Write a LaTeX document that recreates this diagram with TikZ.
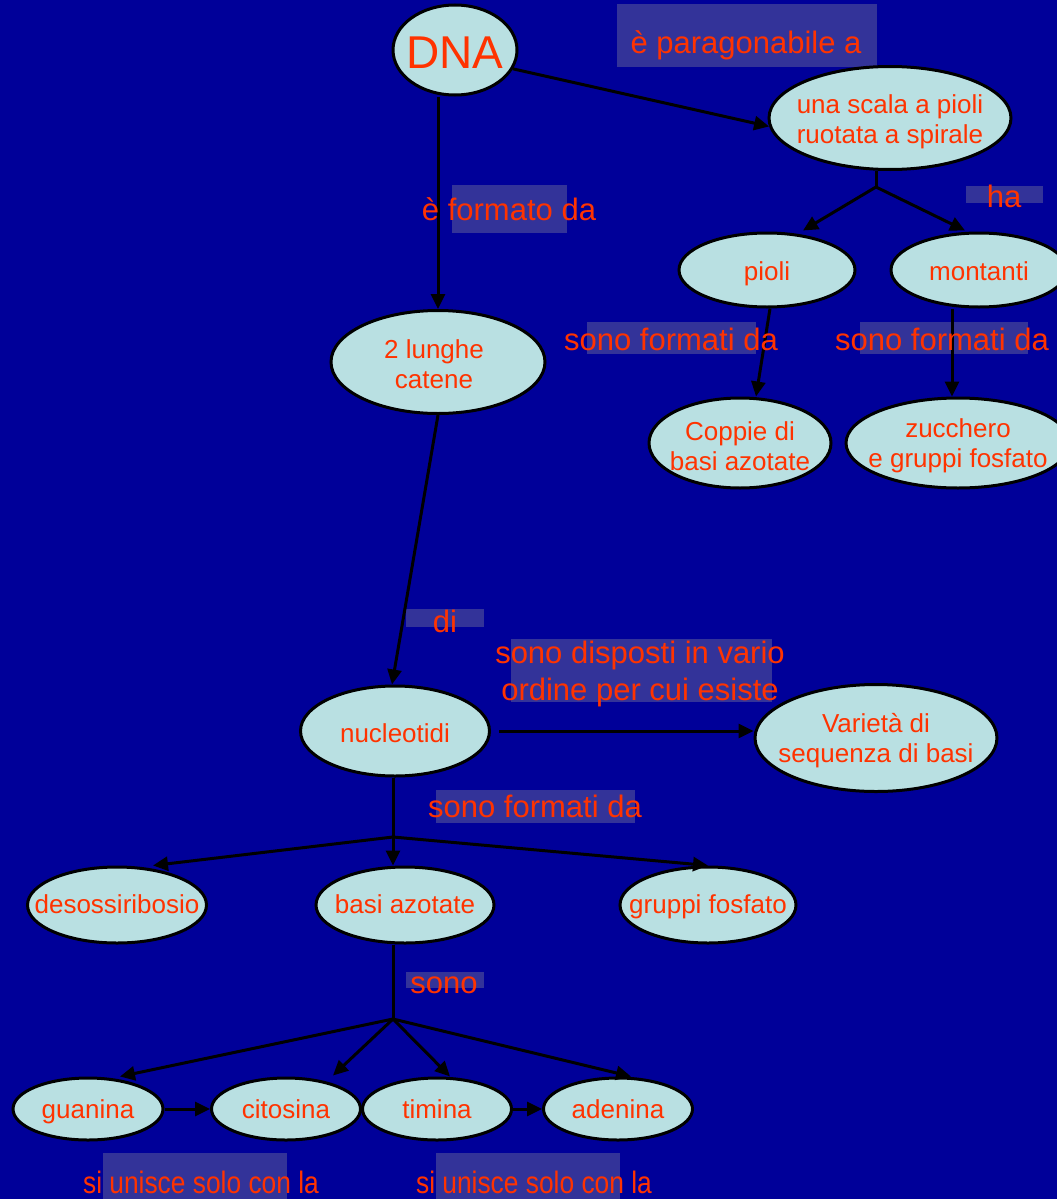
\documentclass[tikz,border=0pt]{standalone}
\usepackage{fontspec}
\setmainfont{Liberation Sans}
\usetikzlibrary{shapes.geometric,arrows.meta}
\definecolor{bg}{HTML}{000099}
\definecolor{ellfill}{HTML}{B9E0E2}
\definecolor{txtred}{HTML}{FF3300}
\definecolor{lblbox}{HTML}{333399}
\begin{document}
\begin{tikzpicture}[x=1pt,y=-1pt,
  ell/.style={ellipse, draw=black, line width=3pt, fill=ellfill, inner sep=0pt},
  etxt/.style={text=txtred, font=\fontsize{26}{30}\selectfont, align=center, inner sep=0pt},
  lbl/.style={text=txtred, font=\fontsize{31}{37}\selectfont, align=center, inner sep=0pt},
  conn/.style={line width=3pt, draw=black},
  arr/.style={conn, -{Triangle[length=15pt,width=14pt]}},
  lblfill/.style={fill=lblbox}
]
\fill[bg] (0,0) rectangle (1057,1199);
\useasboundingbox (0,0) rectangle (1057,1199);

% label boxes
\fill[lblfill] (617,4) rectangle (877,67);
\fill[lblfill] (452,185) rectangle (567,233);
\fill[lblfill] (966,186) rectangle (1043,203);
\fill[lblfill] (587,322) rectangle (756,354);
\fill[lblfill] (860,322) rectangle (1028,354);
\fill[lblfill] (406,609) rectangle (484,627);
\fill[lblfill] (511,639) rectangle (772,702);
\fill[lblfill] (436,790) rectangle (635,823);
\fill[lblfill] (406,972) rectangle (484,988);
\fill[lblfill] (103,1153) rectangle (287,1199);
\fill[lblfill] (436,1153) rectangle (620,1199);

% ellipses
\node[ell, minimum width=124pt, minimum height=90pt] (dna) at (455,50) {};
\node[ell, minimum width=242pt, minimum height=103pt] (scala) at (890,118) {};
\node[ell, minimum width=176pt, minimum height=74pt] (pioli) at (767,270) {};
\node[ell, minimum width=176pt, minimum height=74pt] (montanti) at (979,270) {};
\node[ell, minimum width=182pt, minimum height=90pt] (coppie) at (740,443) {};
\node[ell, minimum width=224pt, minimum height=90pt] (zucchero) at (958,443) {};
\node[ell, minimum width=214pt, minimum height=103pt] (lunghe) at (438,362) {};
\node[ell, minimum width=189pt, minimum height=90pt] (nucl) at (395,731) {};
\node[ell, minimum width=242pt, minimum height=107pt] (varieta) at (876,738) {};
\node[ell, minimum width=179pt, minimum height=76pt] (deso) at (117,905) {};
\node[ell, minimum width=178pt, minimum height=76pt] (basi) at (405,905) {};
\node[ell, minimum width=176pt, minimum height=76pt] (gruppi) at (708,905) {};
\node[ell, minimum width=150pt, minimum height=62pt] (guan) at (88,1109) {};
\node[ell, minimum width=149pt, minimum height=62pt] (cito) at (286,1109) {};
\node[ell, minimum width=149pt, minimum height=62pt] (timina) at (437,1109) {};
\node[ell, minimum width=149pt, minimum height=62pt] (aden) at (618,1109) {};

% ellipse texts
\node[etxt, font=\fontsize{46}{50}\selectfont, anchor=base] (tdna) at ([yshift=-18pt]dna.center) {DNA};
\node[etxt] (tscala) at ([yshift=-4pt]scala.center) {una scala a pioli\\ruotata a spirale};
\node[etxt, anchor=base] (tpioli) at ([yshift=-10pt]pioli.center) {pioli};
\node[etxt, anchor=base] (tmont) at ([yshift=-10pt]montanti.center) {montanti};
\node[etxt] (tcopp) at ([yshift=-3pt]coppie.center) {Coppie di\\basi azotate};
\node[etxt] (tzucc) at ([yshift=-3pt]zucchero.center) {zucchero\\e gruppi fosfato};
\node[etxt] (tlung) at ([xshift=-4pt,yshift=-2pt]lunghe.center) {2 lunghe\\catene};
\node[etxt, anchor=base] (tnucl) at ([yshift=-11pt]nucl.center) {nucleotidi};
\node[etxt] (tvar) at ([yshift=-3pt]varieta.center) {Varietà di\\sequenza di basi};
\node[etxt, anchor=base] (tdeso) at ([yshift=-8pt]deso.center) {desossiribosio};
\node[etxt, anchor=base] (tbasi) at ([yshift=-8pt]basi.center) {basi azotate};
\node[etxt, anchor=base] (tgrup) at ([yshift=-8pt]gruppi.center) {gruppi fosfato};
\node[etxt, anchor=base] (tguan) at ([yshift=-9pt]guan.center) {guanina};
\node[etxt, anchor=base] (tcito) at ([yshift=-9pt]cito.center) {citosina};
\node[etxt, anchor=base] (ttim) at ([yshift=-9pt]timina.center) {timina};
\node[etxt, anchor=base] (taden) at ([yshift=-9pt]aden.center) {adenina};

% branch points
\coordinate (br1) at (876,187);
\coordinate (br2) at (393,837);
\coordinate (br3) at (393,1019);

% connectors
\draw[arr] (dna.-18) -- (scala.184);
\draw[conn] (br1 |- scala.south) -- (br1);
\draw[arr] (br1) -- ([xshift=36pt,yshift=1pt]pioli.north);
\draw[arr] (br1) -- ([xshift=-14pt,yshift=1pt]montanti.north);
\draw[arr] ([xshift=3pt]pioli.south) -- ([xshift=16pt]coppie.north);
\draw[arr] ([xshift=-27pt]montanti.south) -- ([xshift=-6pt]zucchero.north);
\draw[arr] (lunghe.north |- dna.south) -- (lunghe.north);
\draw[arr] (lunghe.south) -- ([xshift=-3pt]nucl.north);
\draw[arr] ([xshift=8pt]nucl.east) -- (nucl.east -| varieta.west);
\draw[conn] (nucl.south -| br2) -- (br2);
\draw[arr] (br2) -- ([xshift=36pt]deso.north);
\draw[arr] (br2) -- (br2 |- basi.north);
\draw[arr] (br2) -- (gruppi.north);
\draw[conn] (basi.south -| br3) -- (br3);
\draw[arr] (br3) -- ([xshift=32pt]guan.north);
\draw[arr] (br3) -- ([xshift=47pt,yshift=1pt]cito.north);
\draw[arr] (br3) -- ([xshift=13pt]timina.north);
\draw[arr] (br3) -- ([xshift=13pt]aden.north);
\draw[arr] (guan.east) -- (cito.west);
\draw[arr] (timina.east) -- (aden.west);

% connector labels
\node[lbl, anchor=base] (l1) at (746,53) {è paragonabile a};
\node[lbl, anchor=base] (l2) at (509,220) {è formato da};
\node[lbl, anchor=base] (l3) at (1004,207) {ha};
\node[lbl, anchor=base] (l4) at (671,350) {sono formati da};
\node[lbl, anchor=base] (l5) at (942,350) {sono formati da};
\node[lbl, anchor=base] (l6) at (445,632) {di};
\node[lbl] (l7) at (640,673.5) {sono disposti in vario\\ordine per cui esiste};
\node[lbl, anchor=base] (l8) at (535,817) {sono formati da};
\node[lbl, anchor=base] (l9) at (444,993) {sono};
\node[lbl, anchor=base] (l10) at (201,1193) {\scalebox{0.85}[1]{si unisce solo con la}};
\node[lbl, anchor=base] (l11) at (534,1193) {\scalebox{0.85}[1]{si unisce solo con la}};
\end{tikzpicture}
\end{document}
